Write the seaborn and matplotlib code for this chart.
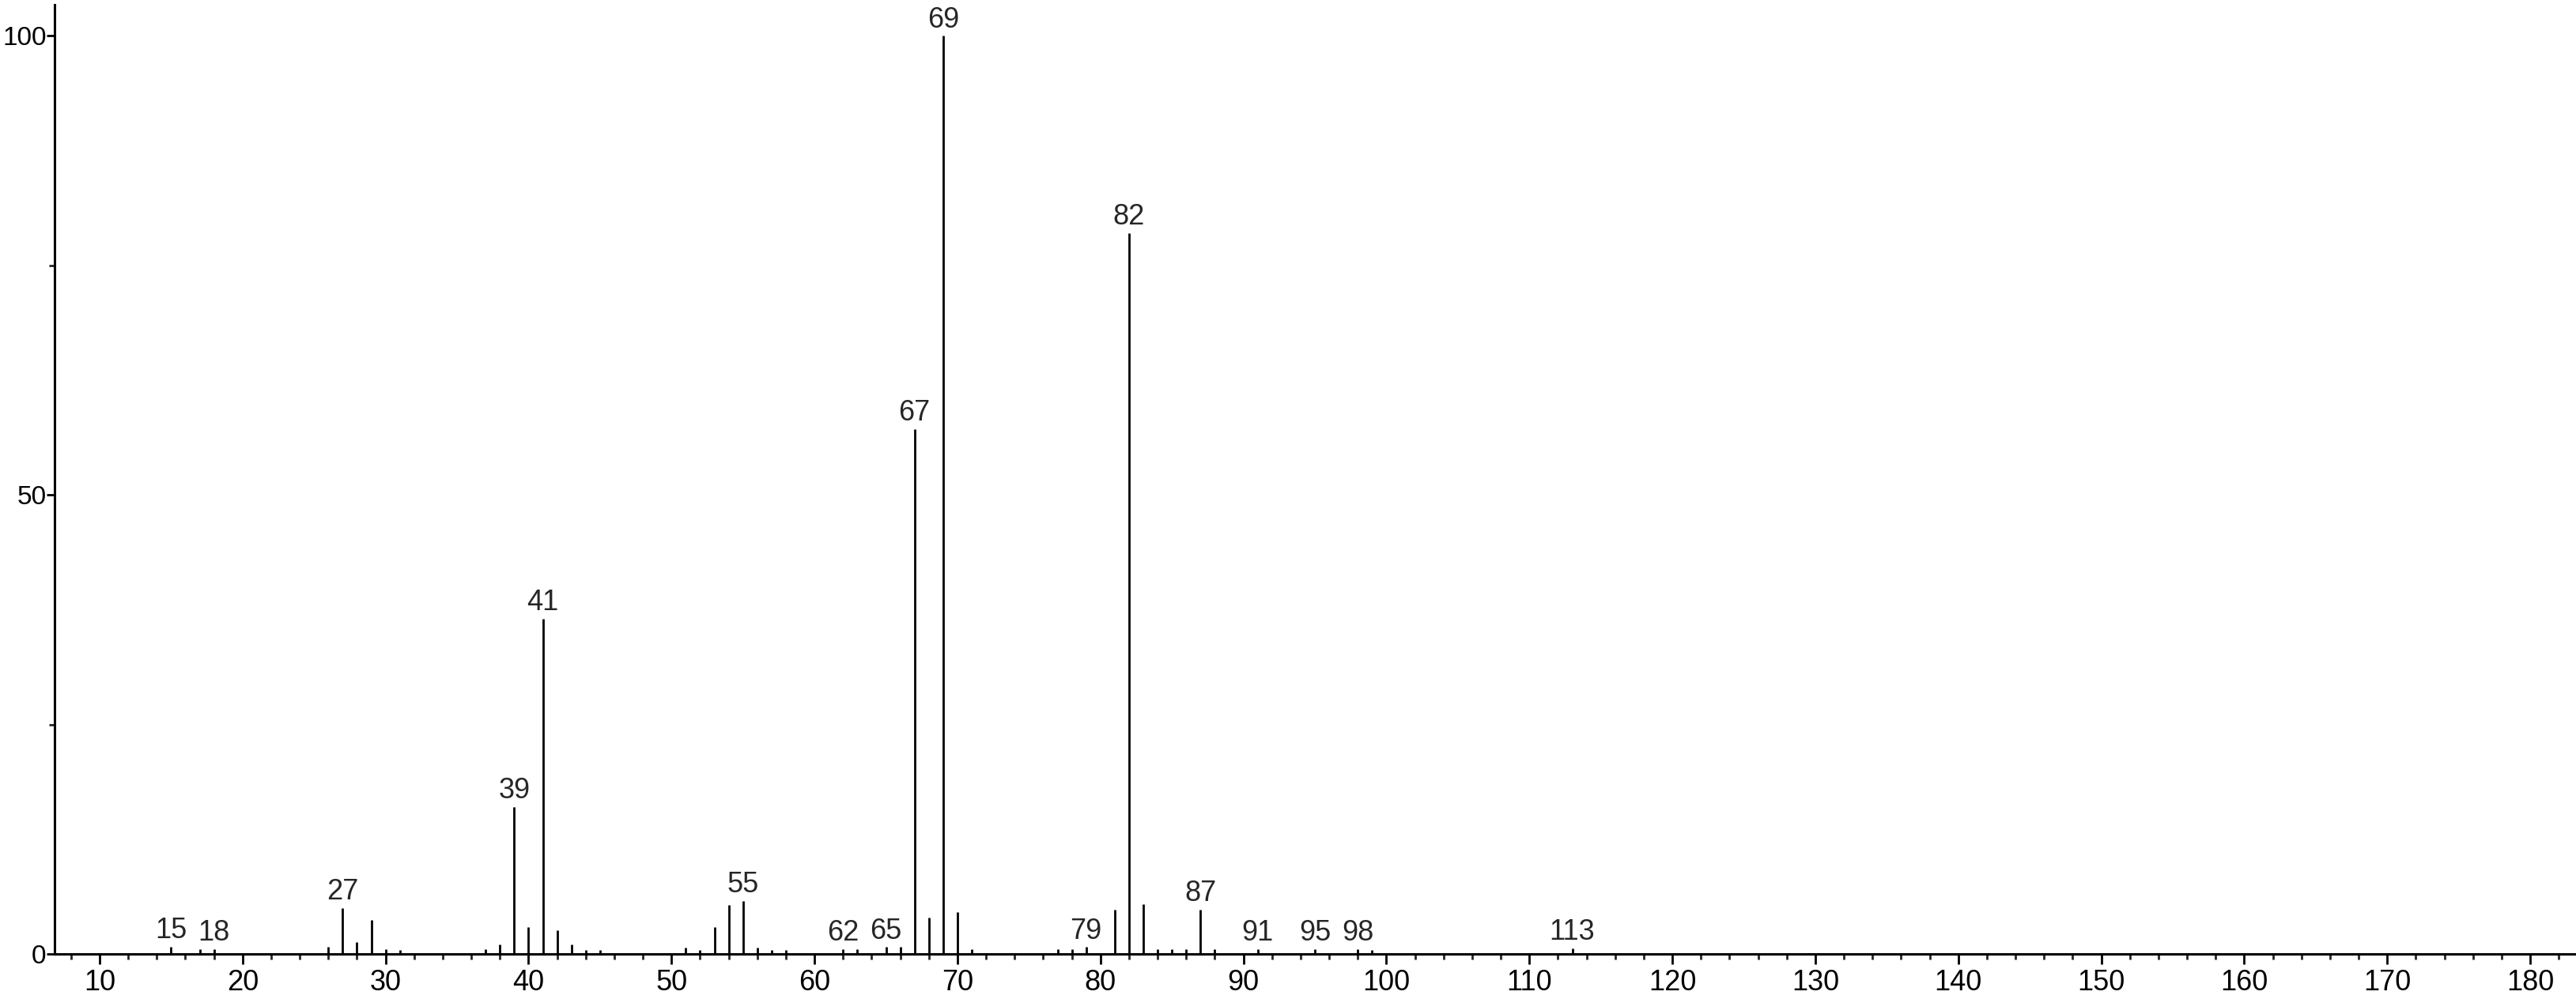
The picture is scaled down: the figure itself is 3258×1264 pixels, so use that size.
import numpy as np
import pandas as pd
import matplotlib
matplotlib.use("Agg")
import matplotlib.pyplot as plt
from matplotlib.ticker import MultipleLocator, FixedLocator
import seaborn as sns

# peaks (m/z, relative intensity)
mz = [15, 17, 18, 26, 27, 28, 29, 30, 31, 37, 38, 39, 40, 41, 42, 43, 44, 45,
      51, 52, 53, 54, 55, 56, 57, 58, 62, 63, 65, 66, 67, 68, 69, 70, 71,
      77, 78, 79, 81, 82, 83, 84, 85, 86, 87, 88, 91, 95, 98, 99, 113]
intensity = [0.8, 0.5, 0.5, 0.8, 5.0, 1.3, 3.7, 0.5, 0.45, 0.5, 1.0, 16.0, 2.9, 36.5, 2.6, 1.0, 0.45, 0.45,
             0.7, 0.45, 2.9, 5.3, 5.8, 0.7, 0.45, 0.45, 0.5, 0.5, 0.75, 0.75, 57.2, 4.0, 100.0, 4.6, 0.5,
             0.5, 0.5, 0.75, 4.8, 78.5, 5.4, 0.5, 0.5, 0.5, 4.8, 0.5, 0.5, 0.5, 0.5, 0.4, 0.6]
labeled = [15, 18, 27, 39, 41, 55, 62, 65, 67, 69, 79, 82, 87, 91, 95, 98, 113]
y_ticks = [0, 50, 100]
y_minor = [25, 75]

spec = pd.DataFrame({"mz": mz, "intensity": intensity})

sns.set_style("ticks")
plt.rcParams["font.family"] = ["Liberation Sans", "DejaVu Sans"]

fig = plt.figure(figsize=(32.58, 12.64), dpi=100)
ax = fig.add_axes([69 / 3258, 57 / 1264, (3258 - 69) / 3258, (1207 - 6) / 1264])

ax.vlines(spec["mz"], 0, spec["intensity"], color="black", linewidth=2.0)

for _, row in spec[spec["mz"].isin(labeled)].iterrows():
    ax.annotate(str(int(row["mz"])), (row["mz"], row["intensity"]),
                xytext=(0, 2), textcoords="offset points",
                ha="center", va="bottom", fontsize=26, clip_on=False)

ax.set_xlim(6.85, 183.2)
ax.set_ylim(0, 103.4)
ax.xaxis.set_major_locator(MultipleLocator(10))
ax.xaxis.set_minor_locator(MultipleLocator(2))
ax.yaxis.set_major_locator(FixedLocator(y_ticks))
ax.yaxis.set_minor_locator(FixedLocator(y_minor))

sns.despine(ax=ax)
for s in ["left", "bottom"]:
    ax.spines[s].set_linewidth(2.2)
    ax.spines[s].set_color("black")

ax.tick_params(axis="x", which="major", length=9, width=2, pad=5, labelsize=26, colors="black")
ax.tick_params(axis="x", which="minor", length=5, width=2)
ax.tick_params(axis="y", which="major", length=7, width=2, pad=0.5, labelsize=24, colors="black")
ax.tick_params(axis="y", which="minor", length=5, width=2)
ax.set_xlabel("")
ax.set_ylabel("")

fig.savefig("out.png", dpi=100, facecolor="white")
